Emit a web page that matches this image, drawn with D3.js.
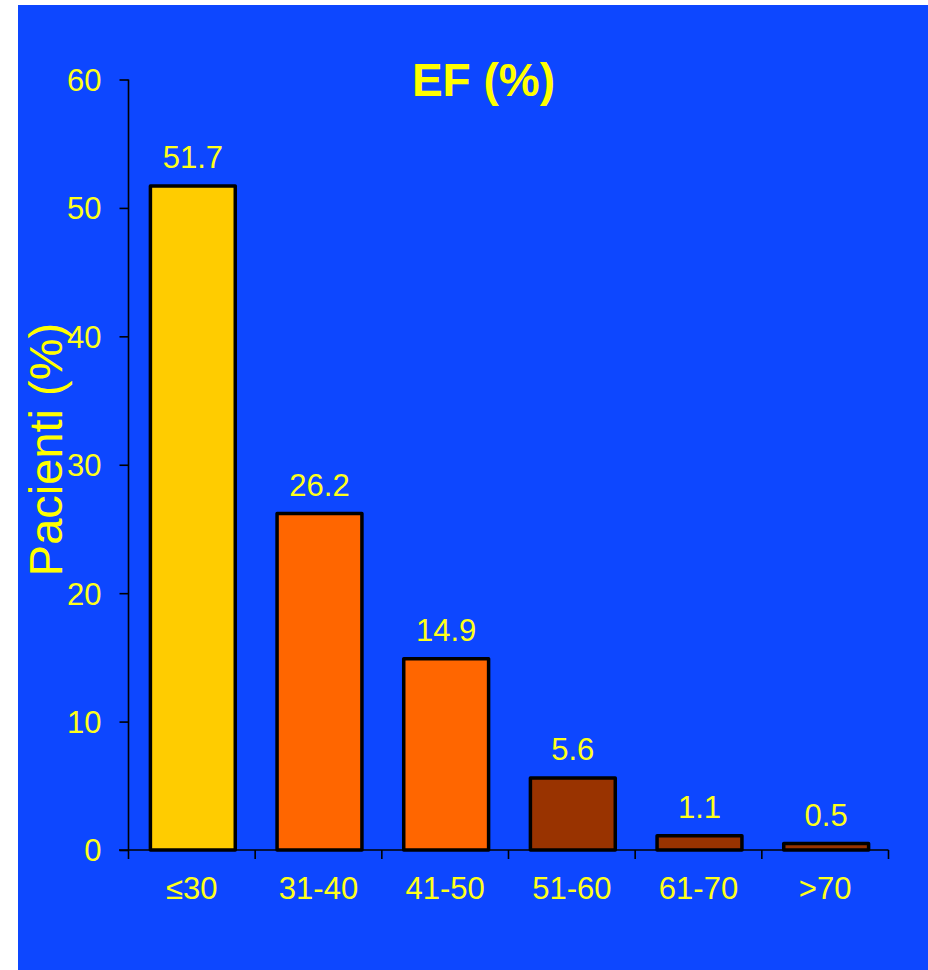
<!DOCTYPE html>
<html><head><meta charset="utf-8">
<script src="https://cdn.jsdelivr.net/npm/d3@7"></script>
<style>html,body{margin:0;padding:0;background:#fff;}svg{display:block;}</style>
</head><body>
<script>
const categories = ["≤30","31-40","41-50","51-60","61-70",">70"];
const values = [51.7,26.2,14.9,5.6,1.1,0.5];
const barColors = ["#ffcc00","#ff6600","#ff6600","#993300","#993300","#993300"];
const yTicks = [0,10,20,30,40,50,60];
const title = "EF (%)";
const yTitle = "Pacienti (%)";

const W = 928, H = 970;
const svg = d3.select("body").append("svg").attr("width", W).attr("height", H);
svg.append("rect").attr("x",18).attr("y",5).attr("width",W-18).attr("height",H-5).attr("fill","#0d47ff");

const x = d3.scaleBand().domain(categories).range([128.5, 888.5]).paddingInner(0.33).paddingOuter(0.165);
const y = d3.scaleLinear().domain([0,60]).range([850, 79.5]);
const txt = "#ffff1a";
const font = "Arial, 'Liberation Sans', sans-serif";
const fs = 31;

// bars
svg.selectAll(".bar").data(values).enter().append("rect")
  .attr("x",(d,i)=>x(categories[i])+1)
  .attr("y",d=>y(d))
  .attr("width",x.bandwidth())
  .attr("height",d=>y(0)-y(d))
  .attr("fill",(d,i)=>barColors[i])
  .attr("stroke","#000").attr("stroke-width",3.5).attr("stroke-linejoin","round");

// value labels
svg.selectAll(".lab").data(values).enter().append("text")
  .attr("x",(d,i)=>x(categories[i])+1+x.bandwidth()/2)
  .attr("y",d=>y(d)-18)
  .attr("text-anchor","middle").attr("font-family",font).attr("font-size",fs)
  .attr("fill",txt).text(d=>d.toFixed(1));

// y axis
const ya = svg.append("g").attr("transform","translate(128.5,0)")
  .call(d3.axisLeft(y).tickValues(yTicks).tickSize(9).tickPadding(18).tickFormat(d3.format("d")));
ya.select(".domain").attr("stroke","#000").attr("stroke-width",1.6).attr("d","M0,79.5V850");
ya.selectAll(".tick line").attr("stroke","#000").attr("stroke-width",1.6);
ya.selectAll(".tick text").attr("fill",txt).attr("font-family",font).attr("font-size",fs).attr("dy","0.35em");

// x axis
const xa = svg.append("g").attr("transform","translate(0,850)")
  .call(d3.axisBottom(x).tickSize(0).tickPadding(27));
xa.select(".domain").attr("stroke","#000").attr("stroke-width",1.6).attr("d","M119,0H888.5");
xa.selectAll(".tick text").attr("fill",txt).attr("font-family",font).attr("font-size",fs);
// category boundary ticks
const bounds = categories.map(c=>x(c)-x.step()*x.paddingInner()/2);
bounds.push(x(categories[categories.length-1]) + x.bandwidth() + x.step()*x.paddingInner()/2);
xa.selectAll(".bt").data(bounds).enter().append("line")
  .attr("x1",d=>d).attr("x2",d=>d).attr("y1",0).attr("y2",9)
  .attr("stroke","#000").attr("stroke-width",1.6);

// title
svg.append("text").attr("x",483.5).attr("y",96).attr("text-anchor","middle")
  .attr("font-family",font).attr("font-weight","bold").attr("font-size",46)
  .attr("fill","#ffff00").text(title);

// y title
svg.append("text").attr("transform","translate(62,449.5) rotate(-90)").attr("text-anchor","middle")
  .attr("font-family",font).attr("font-size",47).attr("fill","#ffff00").text(yTitle);
</script>
</body></html>
